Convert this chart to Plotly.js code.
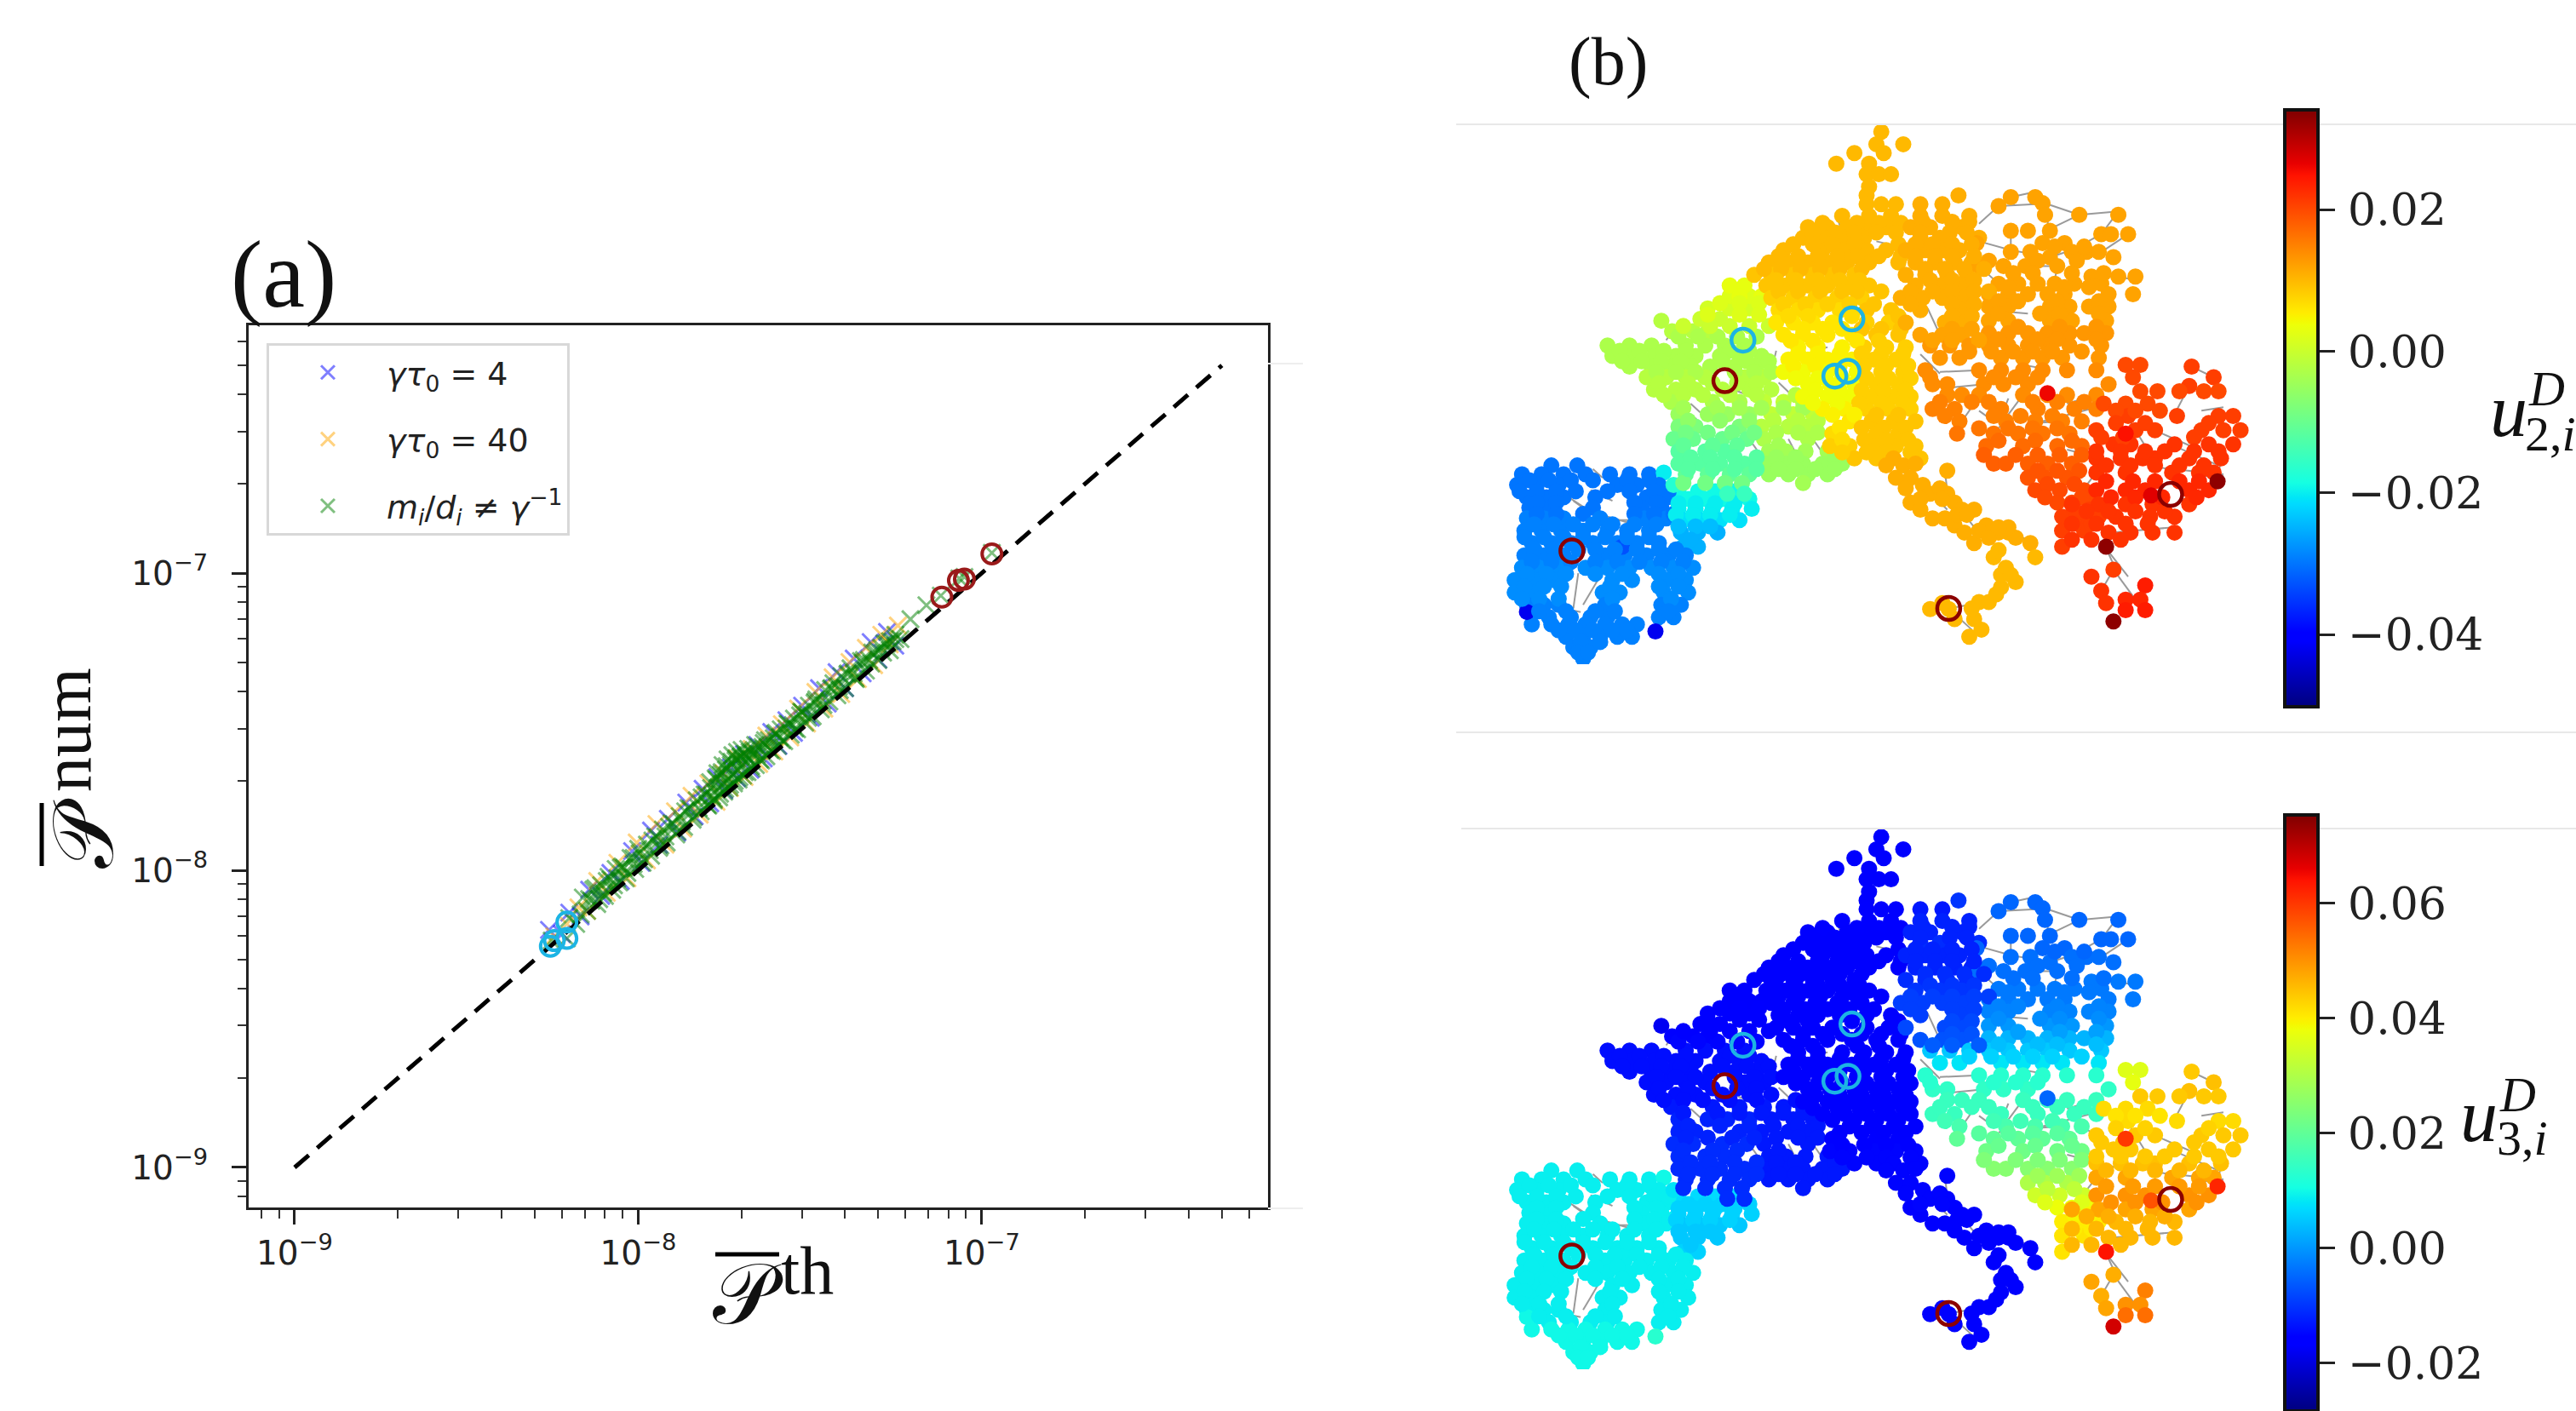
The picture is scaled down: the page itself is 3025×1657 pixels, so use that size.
<!DOCTYPE html>
<html><head><meta charset="utf-8">
<script src="https://cdn.plot.ly/plotly-3.0.1.min.js"></script>
<style>html,body{margin:0;padding:0;background:#fff;overflow:hidden}#g{width:3025px;height:1657px}</style>
</head><body><div id="g"></div>
<script>
// ---------- panel (a): values in units of 1e-9 ----------
const blueX=[5.5,6.0,6.3,6.8,7.2,7.8,8.3,8.9,9.6,10.2,10.9,11.5,12.2,13,13.8,14.6,15.4,16.2,17,17.8,18.6,19.4,20.3,21.2,22.2,23.2,24.4,25.6,27,28.4,30,31.8,33.6,35.6,37.8,40,42.4,45,47.5,50,53,56];
const blueY=[6.3,6.1,7.2,7.0,8.6,8.2,9.8,9.2,11.6,10.6,13.6,12.2,14.9,13.4,16.9,15.2,18.8,16.8,20.6,18.6,22.2,20.4,24.6,21.8,26.4,23.8,29.2,26.2,32,29,35.8,32.6,41,36.4,46.4,41,51.6,46,58.6,51.2,63.4,57];
const orangeX=[5.7,6.2,6.7,7.1,7.6,8.1,8.7,9.3,9.9,10.6,11.3,12,12.8,13.5,14.3,15.1,16,16.9,17.7,18.5,19.4,20.4,21.4,22.5,23.6,24.9,26.2,27.7,29.2,31,32.8,34.8,36.8,39,41.2,43.6,46,48.6,51,54,57];
const orangeY=[6.0,6.6,7.5,7.3,9.2,8.4,10.6,9.4,12.4,10.8,14.3,12.2,15.8,13.8,17.8,15.4,19.6,17.0,21.2,18.9,23.8,20.6,25.6,22.8,28.4,25.1,31,28,35,31.2,39.8,35,44.6,39.2,50.2,44,56,49,62,57.6,66.6];
const greenX=[5.6,6.2,6.3,6.6,6.9,7.1,7.3,7.5,7.6,7.8,8,8.2,8.4,8.6,8.8,9,9.2,9.5,9.8,10,10.3,10.6,10.9,11.2,11.5,11.8,12.1,12.5,12.9,13.2,13.6,14,14.4,14.8,15.2,15.6,16,16.3,16.6,16.9,17.2,17.5,17.8,18.1,18.4,18.7,19,19.3,19.6,19.9,20.2,20.5,20.8,21.1,21.4,21.7,22,22.4,22.8,23.2,23.6,24,24.5,25,25.5,26,26.6,27.2,27.8,28.4,29,29.8,30.6,31.4,32.2,33,34,35,36,37,38,39,40,41.5,43,44.5,46,48,50,52,54,56,58,62,69,76,86,89,107];
const greenY=[5.8,5.9,6.9,6.6,8.1,7.3,7.9,8.7,7.7,8.9,8.2,9.5,8.6,10.1,9.1,10.3,9.4,11,10.1,11.8,10.6,12.2,11.2,13,11.9,13.7,12.4,14.4,13.2,15.2,14,16.2,14.8,17.2,15.8,18,16.5,18.9,17.2,20.2,17.6,21.4,18.4,22.4,19,23.2,19.6,23.8,20.2,24.2,20.8,24.6,21.4,25,22,25.4,22.6,26,23.4,26.8,24.2,27.4,25.2,28.8,26.2,29.8,27.2,31.2,28.6,32.4,29.8,34.2,31.4,35.8,33,37.6,34.8,40.4,37,42.6,38.8,45,41,47.8,44,50.6,47,54,51,58,55,62,60,70,78,84,96,97,117];
const greenX2=[7.4,7.9,8.3,8.7,9.1,9.7,10.1,10.8,11.4,12,12.7,13.4,14.2,15,15.8,16.4,16.8,17.1,17.4,17.7,18,18.3,18.6,18.9,19.2,19.5,19.8,20.1,20.6,21,21.6,22.2,23,23.8,24.8,25.8,27,28.2,29.6,31,32.6,34.4,36.4,38.4,40.6,42.4,45,47,49,51,53,55];
const greenY2=[8.6,8.4,9.3,9.4,10.2,10.5,11.4,11.7,12.9,13,14.3,14.6,16.1,16.2,18,17.8,20.4,19,21,19.6,21.8,20.2,22.6,21,23.4,21.8,24,22.8,24.2,23.6,24.6,24.6,26,26,27.8,28,30,30.8,33.2,33.6,36.6,37.2,40.8,41.6,45.6,46,50,51,54,56,58,59];
const greenX3=[6.8,7.2,7.7,8.1,8.5,8.9,9.3,9.7,10.4,11,11.6,12.3,13,13.7,14.5,15.3,15.9,16.2,16.6,17,17.3,17.6,17.9,18.2,18.5,18.8,19.1,19.4,19.7,20,20.4,20.9,21.3,21.9,22.6,23.4,24.2,25.2,26.2,27.4,28.6,30,31.2,32.8,34.6,36.6,38.6,40.8,42.8,45.4,47.6,49.6,51.6,54,56];
const greenY3=[7.1,8.0,8.0,9.2,8.9,10.2,9.8,11,10.9,12.6,12.1,14,13.5,15.8,15.1,17.6,16.6,19.8,17.4,21.2,18.1,22.6,18.8,23.6,19.4,24.4,20,25,20.6,25.4,21.4,25.6,22.4,26.4,23.6,27.4,25.4,29,27.4,31,30,34,32.6,37,36,41,40.4,46,44.4,51,49.6,55,54,59,60];
const selCyanX=[5.55,5.7,6.2,6.2], selCyanY=[5.55,5.8,6.7,5.9];
const selRedX=[76.5,85.5,89,107], selRedY=[83,94.5,95.5,116];
const refLineX=[1,500], refLineY=[1,500];

// ---------- panel (b): network nodes, rows of [y, u2*1e3, u3*1e3, x, x, ...] ----------
const iberiaRows=[
[1005,-30,9,125,178],[1030,-30,9,65,105,150,195,245,285,325],[1025,-20,10,355],[1060,-30,9,55,95,140,260,300,345],
[1095,-30,9,75,115,150,215,320,362],[1078,-19,7,385,425,460,495],[1100,-19,6,405,440,475,530],[1125,-30,9,80,120,210,310,350],
[1128,-20,6,385,420,455,495,535],[1155,-29,9,75,110,150,225,315,360],[1160,-21,5,395,430,470,510],[1190,-29,9,70,105,145,190,240,280,325],
[1195,-25,5,390,425,465],[1225,-29,9,85,125,165,210,260,300,345],[1235,-25,6,395,425],[1260,-29,9,70,110,150,235,275,320,365,400],
[1235,-33,9,270],[1295,-28,9,65,100,140,195,240,285,330,375,415],[1330,-28,9,50,90,130,250,290,360,400],
[1365,-28,9,50,85,230,265,355,405],[1400,-29,9,75,110,140,235,270,350,390],[1435,-29,9,120,165,205,240,345,375],
[1455,-29,10,85,125,160,195,235,270,300],[1490,-29,10,155,190,225,260,290],[1520,-29,10,170,205],[1552,-29,10,190],
[1475,-42,13,338],[1420,-42,10,75]];
const iberiaFill=[
[1047,-30,9,80,120,165,210,280,325],[1078,-30,9,60,95,135,175,240,285,335,365],[1110,-30,9,95,135,175,295,340],[1142,-30,9,95,135,190,295,335,375],
[1172,-29,9,90,130,170,210,250,295,340],[1208,-29,9,70,110,150,190,235,280,325,365],[1243,-29,9,90,130,180,215,255,300,345,380],[1278,-29,9,85,125,165,215,260,305,350,395],
[1312,-28,9,75,115,155,215,270,345,385],[1348,-28,9,70,110,145,245,345,385],[1383,-28,9,65,100,140,250,370],[1418,-29,9,100,155,215,255,365],[1472,-29,10,140,175,210,250,280],
[1505,-29,10,185,225],[1535,-29,10,180,200],[1060,-17,8,375],[1112,-20,6,385,420,460,500],[1145,-20,6,380,415,450,490],[1178,-24,5,385,420,450],[1215,-25,5,410,380]];
const franceRows=[
[595,-2,-18,350],[625,-2,-16,372,415,445],[590,0,-16,430,470],[560,1,-16,445,490,530],[525,2,-17,490,530],[495,3,-17,490,520],
[665,-3,-14,240,285,330,400,440,480,520],[695,-3,-14,250,290,335,380,420,470,510,555],[725,-3,-14,285,330,370,410,450,500,545],
[755,-2,-14,320,360,400,440,520,560],[790,-2,-14,335,380,420,475,530,575,615],[825,-3,-13,370,410,455,510],[825,-1,-13,560,600,640],
[860,-5,-12,385,445,485,530],[860,-1,-13,575,620,660],[895,-8,-12,385,420,470,510],[895,-2,-13,555,610,650],[930,-10,-11,375,415,475,525],[930,-3,-13,560,610,650],
[965,-12,-11,385,440,480,525],[965,-4,-13,570,605,645,690],[1000,-12,-11,385,430,470,520],[1000,-5,-13,565,605,640,680,720],[1030,-11,-11,400,445,490,530],[1030,-5,-13,570,610,650,690],
[1055,-9,-11,395,440,480,515],[1055,-4,-13,640],[1085,-15,-11,485,520]];
const franceFill=[
[640,-3,-15,385,425,465,505,545],[680,-3,-14,265,305,355,400,445,490,530],[710,-3,-14,270,310,350,390,475,525,570],[740,-3,-14,340,380,420,500,540,575],
[772,-2,-14,345,405,455,505,545,590],[805,-2,-14,355,395,435,490,545,590,625],[842,-4,-13,395,465,510,555,600,640],[878,-6,-12,405,470,530],[878,-2,-13,580,630,670],
[912,-9,-12,400,445,495,540],[912,-3,-13,585,630,670],[948,-11,-11,395,455,505,545],[948,-4,-13,590,630,670,705],[982,-12,-11,410,450,500,545],[982,-5,-13,585,625,665,705],[1015,-12,-11,405,455,500,545],[1015,-5,-13,590,625,665,705],
[525,3,-17,510,555],[545,2,-16,470,510,550],[610,0,-16,395,450,490,530,570],[578,2,-16,445,510,550]];
const centralRows=[
[60,10,-17,800],[95,10,-17,790,845],[120,10,-17,745,805],[150,10,-17,708,775],[180,10,-17,770,795,820],[215,10,-17,775],[240,10,-17,770],
[265,10,-16,770,800,830],[298,10,-16,720,775,820],[330,10,-17,650,690,730,770,810],[360,10,-17,640,680,725,765],
[395,10,-17,600,640,680,725,770,810],[430,10,-17,570,610,650,690,730,775,835],[465,9,-17,540,575,620,660,700,745,790],
[495,9,-17,565,605,650,690,735,775],[530,8,-17,575,620,665,710,760],[565,7,-17,590,630,670,715],[565,9,-17,770,820],
[600,6,-17,585,620,660,700],[600,8,-17,770,815],[635,6,-17,600,640,690,740],[635,9,-17,790,835],[670,5,-17,590,630,670,720],[670,8,-17,765,810,850],
[705,5,-17,610,650,690,740],[705,8,-17,785,830],[740,4,-17,600,640,690,750],[740,8,-17,800,845],[775,4,-17,650,695,745],[775,8,-17,790,835],
[810,4,-17,640,690,735],[810,8,-17,780,825,860],[845,5,-17,680,725],[845,8,-17,770,815,860],[880,6,-17,690,735],[880,9,-17,780,825,870],
[915,7,-16,700,745],[915,9,-16,790,835,880],[950,8,-15,695,735],[950,9,-15,785,830,870],[985,9,-15,745,790,880]];
const centralFill=[
[318,10,-16,680,750,795,840],[345,10,-17,660,705,745,790,830],[378,10,-17,620,660,700,745,790,835],[412,10,-17,590,630,670,710,750,795,840],
[448,10,-17,560,595,635,675,715,760,810],[480,9,-17,585,625,670,715,755,800],[512,9,-17,590,630,675,720,750,800],[548,8,-17,600,645,690,735],[548,9,-17,785],
[582,7,-17,610,650,695,740],[582,9,-17,790,835],[618,6,-17,640,680,720],[618,9,-17,760,800,840],[652,6,-17,615,660,705,750],[652,8,-17,795],[688,5,-17,630,670,715],[688,8,-17,760,800,845],
[722,5,-17,620,665,715],[722,8,-17,765,810,855],[758,4,-17,625,670,720],[758,8,-17,770,815,860],[792,4,-17,620,665,715],[792,8,-17,760,805,850],[828,4,-17,660,710],[828,8,-17,755,800,845],
[862,5,-17,700,745],[862,9,-17,790,835],[898,6,-17,715],[898,9,-17,760,805,850],[932,7,-16,720],[932,9,-16,765,810,855],[968,8,-15,720],[968,9,-15,770,810,860]];
const northEastRows=[
[265,11,-13,880,925],[240,11,-10,958],[298,11,-12,880,925,980],[330,11,-12,860,900,965],[360,11,-11,880,920,1000],
[395,11,-12,850,890,930,960],[430,11,-12,870,910,950,985],[465,11,-11,850,890,935,975],[495,11,-10,870,920,965],
[530,11,-9,840,885,925,970],[565,11,-9,880,920,965],[600,11,-8,850,885,930,970],[635,12,-7,880,925,965],
[270,12,-5,1040],[245,12,-5,1065,1115],[262,12,-5,1130],[295,12,-5,1135,1205,1285],[340,12,-5,1065,1100,1145],[350,12,-5,1250,1270,1305],
[375,12,-5,995,1130,1175],[400,12,-4,1065,1105,1190,1220,1245],[415,12,-4,1145,1275],[440,12,-4,1000,1050,1095,1160],[470,12,-3,1230,1285,1320],
[490,12,-3,1040,1080,1120,1155,1195,1250],[520,12,-3,1020,1060,1100,1140,1175,1265,1315],[555,12,-2,1020,1060,1145,1185,1225,1265],
[595,12,0,1020,1060,1145,1190,1260],[630,13,3,1020,1060,1100,1140,1185,1215,1260],[665,13,5,900,940,980,1020,1060,1100,1140,1185,1250],[700,13,8,920,960,1000,1045,1090,1130,1170,1245],
[425,12,-4,1020,1120,1200],[460,12,-4,1070,1110,1190,1255],[385,12,-5,1155,1215]];
const northEastFill=[
[315,11,-12,885,945,980],[345,11,-12,880,940,975],[378,11,-12,870,905,945,985],[412,11,-12,870,910,945,990],[448,11,-11,890,930,970,1010],[480,11,-10,900,945,990],
[512,11,-9,860,905,945,990,1020],[548,11,-9,860,900,945,990],[582,11,-8,900,945,985],[618,12,-7,905,945,985],[650,12,-6,905,945,1000],
[500,12,-3,1060,1175,1225],[540,12,-2,1040,1080,1160,1245],[575,12,-1,1040,1125,1165,1245],[612,13,1,1040,1080,1165,1240],[648,13,4,1040,1120,1160,1240],[682,13,6,980,1025,1070,1110,1150,1210]];
const balkanNorthRows=[
[735,14,13,890,935,1000,1045,1090,1130,1180,1240],[775,14,14,905,935,1010,1050,1100,1150,1265],[805,14,15,935,965,1000,1090,1140,1180,1240],
[845,15,15,905,950,1045,1120,1195,1240],[880,15,17,960,990,1055,1115,1170,1210],[915,16,20,955,1030,1080,1130,1185],[950,17,22,1015,1090,1160,1210],
[1000,18,25,1030,1055,1100,1140,1190],[1040,19,30,1100,1135,1180],[1075,20,34,1115,1165,1215],[1110,20,38,1160,1190,1230],[1150,21,40,1170,1210,1245],
[1190,21,41,1170,1215],[1235,21,41,1170],
[755,14,13,900,1030,1075,1120,1160],[825,15,15,920,985,1020,1060,1110,1160,1215],[865,15,16,930,985,1030,1085,1150],[900,16,19,1000,1060,1110,1160],[935,17,21,1040,1115,1190],
[975,18,24,1010,1075,1120,1165,1210],[1020,19,28,1120,1160,1205],[1058,20,32,1140,1195],[1095,20,36,1135,1210],[1130,21,39,1195,1225],[1170,21,40,1195,1230]];
const balkanEastRows=[
[720,20,36,1300,1330],[755,20,37,1315],[725,21,44,1435],[755,21,45,1480],[780,21,45,1430],[795,20,44,1330,1365,1410,1460,1490],[830,20,42,1255,1300,1345],
[865,21,42,1305,1405,1490,1520],[905,21,44,1240,1320,1360,1455,1500,1535],[945,22,44,1275,1310,1400,1470,1520],[985,22,45,1240,1290,1335,1360,1430,1495],
[1025,22,48,1240,1300,1395,1450,1480],[1075,23,50,1240,1300,1340,1430,1470],[1115,22,48,1190,1245,1300,1355,1430],[1150,22,46,1280,1350,1400],
[1195,22,46,1265,1310,1355,1400],[1345,24,52,1340],[1320,22,48,1230],[1300,21,47,1275],[1360,22,47,1250],[1395,22,48,1260],[1385,23,50,1300,1330],[1415,24,54,1300,1340],
[850,20,41,1280,1320,1370],[885,21,43,1280,1340,1400,1470],[925,21,44,1250,1295,1345,1440],[965,22,44,1240,1290,1340,1380,1440,1490],[1005,22,46,1260,1310,1360,1410,1460],
[1050,23,49,1260,1315,1360,1410,1450],[1095,23,50,1270,1320,1375,1445],[1135,22,47,1220,1265,1320,1380],[1170,22,46,1190,1240,1300,1345],[1215,22,46,1190,1230,1290]];
const italyRows=[
[985,11,-15,825],[1005,11,-15,810,845],[1040,11,-15,830,860],[1060,11,-15,885],[1085,11,-15,900,935],[1020,11,-15,935],[1110,11,-16,860,950],
[1130,11,-17,880,965,990],[1155,11,-17,905,930],[1175,11,-17,950,1015],[1195,11,-17,970,1040,1060],[1225,11,-17,990,1105],[1265,10,-17,1030,1115],
[1245,10,-17,1040],[1295,10,-17,1055],[1335,10,-17,1075],[1350,10,-17,1045],[1392,10,-17,1000,1020],[1412,10,-17,900,938],[1395,10,-17,925],
[1440,10,-17,950,990],[1470,10,-17,1005],[1490,10,-17,980],
[1000,11,-15,870],[1070,11,-15,850,920],[1100,11,-15,880,925],[1145,11,-17,955,975],[1190,11,-17,1000],[1210,11,-17,1020,1075],[1180,11,-17,1060,1040],[1315,10,-17,1045,1065],[1370,10,-17,1035],[1410,10,-17,985]];
const hubRows=[[800,26,-5,1140],[915,25,60,1300],[1235,33,64,1260],[1447,33,68,1275],[1050,33,62,1488],[1090,27,57,1352]];
const nodeGroups=[iberiaRows,iberiaFill,franceRows,franceFill,centralRows,centralFill,northEastRows,northEastFill,balkanNorthRows,balkanEastRows,italyRows,hubRows];
// white pockets in the network: x, y, half-width, half-height
const whiteGaps=[[600,790,24,30],[620,950,16,32],[670,950,18,35],[540,950,18,30],[420,840,18,25],[455,690,12,35],[590,655,18,20],[700,575,14,18],[810,470,22,25],[905,590,22,45],[800,590,14,18],[640,400,14,14],[790,370,10,14],[720,650,16,14],[700,880,14,14],[740,905,12,14],[460,900,14,20],[880,720,14,14],[930,725,30,14],[890,930,16,20],[1150,760,22,20],[1060,830,22,20],[1000,860,25,25],[1330,930,18,18],[1380,880,25,30],[1450,880,20,25],[270,1135,25,20],[180,1110,15,30],[300,1385,35,50],[190,1365,22,40],[370,1220,15,18],[1040,610,18,16],[1200,520,18,18],[1110,550,18,16],[1000,690,14,14],[960,470,12,14],[850,350,10,14]];
// grey grid lines as x1,y1,x2,y2
const edgeSegments=[
[1040,270,1000,320],[1040,270,1115,265],[1065,245,1115,230],[1115,230,1130,260],[1130,260,1205,295],[1205,295,1285,285],[1205,295,1145,335],[1285,285,1250,350],[1135,295,1145,335],[1065,340,1065,395],
[1000,370,1065,395],[1250,350,1190,395],[1305,350,1245,405],[1130,375,1175,375],[1065,395,1105,405],[1145,415,1190,395],[1000,440,1050,430],[1095,440,1160,440],[1230,470,1285,470],[1285,470,1320,480],
[1040,490,1000,440],[1080,480,1050,430],[1155,480,1160,440],[1195,495,1250,480],[1020,530,1060,530],[1060,570,1100,575],[1145,570,1190,575],[1215,640,1260,655],[920,740,1000,735],[935,785,1010,775],
[1090,720,1130,730],[1180,830,1240,805],[960,890,1000,810],[1055,870,1090,805],[1030,920,1055,870],[1115,885,1170,880],[1080,910,1130,915],[1015,955,1030,920],[1130,880,1270,830],[1210,880,1240,905],
[1300,1075,1310,1140],[1240,1025,1170,1150],[1330,800,1380,860],[1350,900,1450,960],[1400,950,1490,1005],[1495,985,1490,1030],[1430,1060,1480,1025],[1270,1195,1400,1180],[1260,1240,1280,1300],[1275,1300,1320,1385],
[1250,1360,1275,1300],[1260,1240,1305,1320],[1435,725,1480,755],[1430,780,1400,860],[1455,850,1500,840],[1360,1010,1500,1030],[1180,960,1290,1000],[1230,860,1290,830],[1300,860,1340,950],
[180,1310,170,1410],[220,1330,190,1400],[160,1095,205,1135],[170,1105,195,1130],[240,1160,300,1160],[240,1150,290,1170],[230,1040,210,1015],[205,1075,250,1105],[150,1410,185,1420],[205,1450,215,1480],
[1000,1395,938,1410],[938,1410,985,1470],[1040,1290,1050,1350],[1040,1215,1060,1190],[1060,1190,1105,1220],[960,1125,990,1180],[885,1060,935,1130],[930,1020,935,1075],[820,990,860,1040],
[480,780,525,805],[465,800,480,770],[420,870,440,930],[585,680,575,740],[620,650,630,630],[480,960,500,980],[690,670,660,680],[360,650,375,620],[825,580,830,600],[790,540,790,560],[735,650,745,620],
[710,300,720,350],[690,430,675,425],[820,380,790,370],[880,690,920,745],[590,770,620,810],[610,930,625,970],[660,930,680,970],[530,930,550,970],[410,830,430,855],[895,560,915,620],[1000,850,1020,870],[1060,815,1050,850]];
// colours: jet
const jetStops=[[0,'rgb(0,0,127)'],[0.11,'rgb(0,0,255)'],[0.125,'rgb(0,0,255)'],[0.34,'rgb(0,219,255)'],[0.35,'rgb(0,229,247)'],[0.375,'rgb(21,255,226)'],[0.64,'rgb(238,255,8)'],[0.65,'rgb(247,246,0)'],[0.66,'rgb(255,236,0)'],[0.89,'rgb(255,19,0)'],[0.91,'rgb(232,0,0)'],[1,'rgb(127,0,0)']];
const u2Range=[-0.0502,0.0341], u3Range=[-0.0283,0.0754];
const u2Ticks=[-0.04,-0.02,0,0.02], u3Ticks=[-0.02,0,0.02,0.04,0.06];
const selCyanNodesX=[517,740,705,732], selCyanNodesY=[650,590,752,738];
const selRedNodesX=[480,167,938,1392], selRedNodesY=[765,1247,1410,1087];
const xTickVals=[1e-9,1e-8,1e-7], yTickVals=[1e-9,1e-8,1e-7];

// ---------- build ----------
const W=3025,H=1657, fx=p=>p/W, fy=p=>1-p/H;
const nX=[],nY=[],nU2=[],nU3=[];
const inGap=(x,y)=>whiteGaps.some(g=>((x-g[0])/g[2])**2+((y-g[1])/g[3])**2<1);
nodeGroups.forEach(g=>g.forEach(r=>{for(let i=3;i<r.length;i++){if(inGap(r[i],r[0]))continue;nX.push(r[i]);nY.push(r[0]);nU2.push(r[1]/1000);nU3.push(r[2]/1000);}}));
const eX=[],eY=[];edgeSegments.forEach(s=>{eX.push(s[0],s[2],null);eY.push(s[1],s[3],null);});
const nano=a=>a.map(v=>v*1e-9);
const sc=(x,y,col,name,sz)=>({x:nano(x),y:nano(y),type:'scatter',mode:'markers',name:name,legendgroup:name,showlegend:true,cliponaxis:true,
  marker:{symbol:'x-thin',size:sz,color:col,line:{color:col,width:3}},xaxis:'x',yaxis:'y',hoverinfo:'skip'});
const CB=(tv,top,len)=>({x:fx(2683),xanchor:'left',xpad:0,ypad:0,y:fy(top),yanchor:'top',lenmode:'pixels',len:len,thicknessmode:'pixels',thickness:39,
  outlinewidth:4,outlinecolor:'#111',tickmode:'array',tickvals:tv,ticktext:tv.map(v=>'\u200a'+(v<0?'\u2212':'')+Math.abs(v).toFixed(2)),ticks:'outside',ticklen:18,tickwidth:3,tickcolor:'#222',
  tickfont:{family:'DejaVu Serif',size:52,color:'#222'},ticklabelposition:'outside',title:{text:''}});
const mapTraces=(xa,ya,u,rng,tv,top,len)=>[
 {x:eX,y:eY,type:'scatter',mode:'lines',line:{color:'#9a9a9a',width:2},xaxis:xa,yaxis:ya,showlegend:false,hoverinfo:'skip'},
 {x:nX,y:nY,type:'scatter',mode:'markers',xaxis:xa,yaxis:ya,showlegend:false,hoverinfo:'skip',
  marker:{size:19,color:u,cmin:rng[0],cmax:rng[1],colorscale:jetStops,showscale:true,colorbar:CB(tv,top,len)}},
 {x:selCyanNodesX,y:selCyanNodesY,type:'scatter',mode:'markers',xaxis:xa,yaxis:ya,showlegend:false,hoverinfo:'skip',marker:{size:27,color:'rgba(0,0,0,0)',line:{color:'#1cb4e4',width:4.5}}},
 {x:selRedNodesX,y:selRedNodesY,type:'scatter',mode:'markers',xaxis:xa,yaxis:ya,showlegend:false,hoverinfo:'skip',marker:{size:27,color:'rgba(0,0,0,0)',line:{color:'#8b0000',width:4.5}}}];
const traces=[
 sc(blueX,blueY,'rgba(0,0,255,0.5)','<i>\u03b3\u03c4</i><sub>0</sub> = 4',20),
 sc(orangeX,orangeY,'rgba(255,165,0,0.5)','<i>\u03b3\u03c4</i><sub>0</sub> = 40',20),
 sc(greenX.concat(greenX2,greenX3),greenY.concat(greenY2,greenY3),'rgba(0,128,0,0.5)','<i>m<sub>i</sub></i>/<i>d<sub>i</sub></i> \u2260 <i>\u03b3</i><sup>\u22121</sup>',20),
 {x:nano(refLineX),y:nano(refLineY),type:'scatter',mode:'lines',line:{color:'#000',width:5,dash:'22px,13px'},xaxis:'x',yaxis:'y',showlegend:false,hoverinfo:'skip'},
 {x:nano(selCyanX),y:nano(selCyanY),type:'scatter',mode:'markers',xaxis:'x',yaxis:'y',showlegend:false,hoverinfo:'skip',marker:{size:23,color:'rgba(0,0,0,0)',line:{color:'#1cb4e4',width:4}}},
 {x:nano(selRedX),y:nano(selRedY),type:'scatter',mode:'markers',xaxis:'x',yaxis:'y',showlegend:false,hoverinfo:'skip',marker:{size:23,color:'rgba(0,0,0,0)',line:{color:'#9a1a1a',width:4}}},
 ...mapTraces('x2','y2',nU2,u2Range,u2Ticks,129,701),
 ...mapTraces('x3','y3',nU3,u3Range,u3Ticks,957,700)
];
const note=(t,x,y,size,fam,o)=>Object.assign({text:t,xref:'paper',yref:'paper',x:fx(x),y:fy(y),showarrow:false,xanchor:'center',yanchor:'middle',font:{family:fam,size:size,color:'#111'}},o||{});
const SER='Liberation Serif', L={xanchor:'left'};
const annotations=[
 note('(a)',333,322,112,SER),note('(b)',1888,73,80,SER),
 note('\ud835\udcab',878,1519,100,'DejaVu Serif, DejaVu Sans, Noto Sans'),note('th',948,1492,80,SER),
 note('\ud835\udcab',98,978,100,'DejaVu Serif, DejaVu Sans, Noto Sans',{textangle:-90}),note('num',78,857,82,SER,{textangle:-90}),
 note('<i>u</i>',2922,483,88,SER,L),note('<i>D</i>',2967,457,58,SER,L),note('2,<i>i</i>',2963,510,58,SER,L),
 note('<i>u</i>',2887,1310,88,SER,L),note('<i>D</i>',2933,1285,58,SER,L),note('3,<i>i</i>',2930,1336,58,SER,L)
];
const line=(x0,y0,x1,y1,c,w)=>({type:'line',xref:'paper',yref:'paper',x0:fx(x0),y0:fy(y0),x1:fx(x1),y1:fy(y1),line:{color:c,width:w}});
const shapes=[
 line(1489,427,1530,427,'#eeeeee',2),line(1489,1419,1530,1419,'#eeeeee',2),
 line(1710,146,3025,146,'#e8e8e8',2),line(1710,860,3025,860,'#e8e8e8',2),line(1716,973,3025,973,'#e8e8e8',2),
 line(840,1473,915,1473,'#000',5),line(49,943,49,1017,'#000',5)
];
const hidden=(d0,d1)=>({domain:[d0,d1],visible:false,showgrid:false,zeroline:false,fixedrange:true});
const axisFont={family:'DejaVu Sans',size:39,color:'#222'}, expLabels=['10<sup>\u22129</sup>','10<sup>\u22128</sup>','10<sup>\u22127</sup>'];
const layout={width:W,height:H,margin:{l:0,r:0,t:0,b:0,pad:0},paper_bgcolor:'#fff',plot_bgcolor:'#fff',showlegend:true,
 legend:{x:fx(313),xanchor:'left',y:fy(403),yanchor:'top',bgcolor:'#fff',bordercolor:'#d8d8d8',borderwidth:3,font:{family:'DejaVu Sans',size:38,color:'#222'},
  traceorder:'grouped',tracegroupgap:26,itemwidth:128,entrywidth:364,entrywidthmode:'pixels',itemclick:false,itemdoubleclick:false},
 xaxis:{type:'log',domain:[fx(292),fx(1489)],range:[-9.1338,-6.167],anchor:'y',showgrid:false,zeroline:false,showline:true,linecolor:'#222',linewidth:3,mirror:true,
  ticks:'outside',ticklen:17,tickwidth:3,tickcolor:'#222',tickmode:'array',tickvals:xTickVals,ticktext:expLabels,tickfont:axisFont,
  minor:{ticks:'outside',ticklen:10,tickwidth:2,tickcolor:'#333',dtick:'D1',showgrid:false}},
 yaxis:{type:'log',domain:[fy(1418),fy(382)],range:[-9.1347,-6.166],anchor:'x',showgrid:false,zeroline:false,showline:true,linecolor:'#222',linewidth:3,mirror:true,ticklabelstandoff:20,
  ticks:'outside',ticklen:17,tickwidth:3,tickcolor:'#222',tickmode:'array',tickvals:yTickVals,ticktext:expLabels,tickfont:axisFont,
  minor:{ticks:'outside',ticklen:10,tickwidth:2,tickcolor:'#333',dtick:'D1',showgrid:false}},
 xaxis2:Object.assign(hidden(fx(1750),fx(2650)),{range:[0,1568],anchor:'y2'}),
 yaxis2:Object.assign(hidden(fy(780),fy(130)),{range:[1568,0],anchor:'x2'}),
 xaxis3:Object.assign(hidden(fx(1750),fx(2650)),{range:[0,1568],anchor:'y3'}),
 yaxis3:Object.assign(hidden(fy(1608),fy(958)),{range:[1568,0],anchor:'x3'}),
 annotations:annotations,shapes:shapes};
Plotly.newPlot('g',traces,layout,{displayModeBar:false,responsive:false});
</script></body></html>
